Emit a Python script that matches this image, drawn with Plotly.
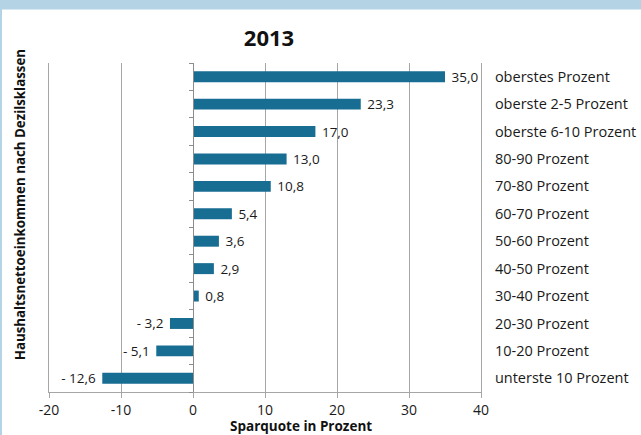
import plotly.graph_objects as go

categories = [
    "oberstes Prozent",
    "oberste 2-5 Prozent",
    "oberste 6-10 Prozent",
    "80-90 Prozent",
    "70-80 Prozent",
    "60-70 Prozent",
    "50-60 Prozent",
    "40-50 Prozent",
    "30-40 Prozent",
    "20-30 Prozent",
    "10-20 Prozent",
    "unterste 10 Prozent",
]
values = [35.0, 23.3, 17.0, 13.0, 10.8, 5.4, 3.6, 2.9, 0.8, -3.2, -5.1, -12.6]
x_ticks = [-20, -10, 0, 10, 20, 30, 40]
title_text = "2013"
x_title = "Sparquote in Prozent"
y_title = "Haushaltsnettoeinkommen nach Dezilsklassen"

NB = "\u00a0"


def fmt(v):
    s = f"{abs(v):.1f}".replace(".", ",")
    if v < 0:
        return "-" + NB + s + NB
    return NB + s


labels = [fmt(v) for v in values]

FONT = "Open Sans"
GRID = "#a6a6a6"
BAR = "#186d92"
BAND = "#b4d4e6"

fig = go.Figure()
fig.add_trace(go.Bar(
    x=values, y=categories, orientation="h",
    marker=dict(color=BAR, line=dict(width=0)),
    text=labels, textposition="outside", cliponaxis=False,
    constraintext="none",
    textfont=dict(family=FONT, size=13.5, color="#1a1a1a"),
    hoverinfo="skip",
))
# helper trace so the zero-line axis with category boundary ticks is drawn
fig.add_trace(go.Scatter(
    x=[0], y=[0], yaxis="y2", mode="markers",
    marker=dict(opacity=0), showlegend=False, hoverinfo="skip",
))

n = len(categories)
L, R, T, B = 49, 160, 62.5, 43
W, H = 641, 435
pw = W - L - R
ph = H - T - B

fig.update_layout(
    width=W, height=H,
    margin=dict(l=L, r=R, t=T, b=B, autoexpand=False),
    paper_bgcolor="white", plot_bgcolor="white",
    showlegend=False,
    bargap=0.6,
    font=dict(family=FONT, size=13.5, color="#1a1a1a"),
    title=dict(text=title_text, x=269 / W, xanchor="center",
               y=1 - 38 / H, yanchor="middle",
               font=dict(family=FONT, size=22, color="#111111", weight="bold")),
    xaxis=dict(
        range=[x_ticks[0], x_ticks[-1]], tickvals=x_ticks,
        ticktext=[str(t) for t in x_ticks], automargin=False,
        showgrid=True, gridcolor=GRID, gridwidth=1,
        zeroline=False, showline=True, linecolor=GRID, linewidth=1,
        ticks="outside", ticklen=5, tickcolor=GRID,
        tickfont=dict(family=FONT, size=14, color="#1a1a1a"),
    ),
    yaxis=dict(
        type="category", categoryorder="array", categoryarray=categories,
        range=[n - 0.5, -0.5], side="right", automargin=False,
        showgrid=False, zeroline=False,
        showline=True, mirror=True, linecolor=GRID, linewidth=1,
        ticks="", ticklen=0, ticklabelstandoff=10,
        tickfont=dict(family=FONT, size=14.5, color="#1a1a1a"),
    ),
    yaxis2=dict(
        overlaying="y", anchor="free", automargin=False,
        position=(0 - x_ticks[0]) / (x_ticks[-1] - x_ticks[0]),
        side="left", range=[n - 0.5, -0.5],
        tickvals=[i - 0.5 for i in range(n + 1)],
        showticklabels=False, showgrid=False, zeroline=False,
        showline=True, linecolor="#8c8c8c", linewidth=1,
        ticks="outside", ticklen=4, tickcolor="#8c8c8c",
    ),
    annotations=[
        dict(text=y_title, xref="paper", yref="paper",
             x=(20 - L) / pw, y=(H - B - 205) / ph, textangle=-90,
             xanchor="center", yanchor="middle", showarrow=False,
             font=dict(family=FONT, size=13.3, color="#111111", weight="bold")),
        dict(text=x_title, xref="paper", yref="paper",
             x=(301 - L) / pw, y=(H - B - 426) / ph,
             xanchor="center", yanchor="middle", showarrow=False,
             font=dict(family=FONT, size=13.5, color="#111111", weight="bold")),
    ],
    shapes=[
        dict(type="rect", xref="paper", yref="paper",
             x0=(-20 - L) / pw, x1=(W + 40 - L) / pw,
             y0=(H - B - 9) / ph, y1=(H - B + 20) / ph,
             fillcolor=BAND, line=dict(width=0), layer="below"),
        dict(type="rect", xref="paper", yref="paper",
             x0=(-20 - L) / pw, x1=(2 - L) / pw,
             y0=(H - B - H - 20) / ph, y1=(H - B + 20) / ph,
             fillcolor=BAND, line=dict(width=0), layer="below"),
    ],
)

fig.write_html("out.html", config={"displayModeBar": False, "staticPlot": True})

# remove the default page margin so the figure sits at the window's top-left
with open("out.html", "r", encoding="utf-8") as f:
    html = f.read()
html = html.replace("<head>", "<head><style>html,body{margin:0;padding:0;overflow:hidden;}</style>", 1)
with open("out.html", "w", encoding="utf-8") as f:
    f.write(html)
